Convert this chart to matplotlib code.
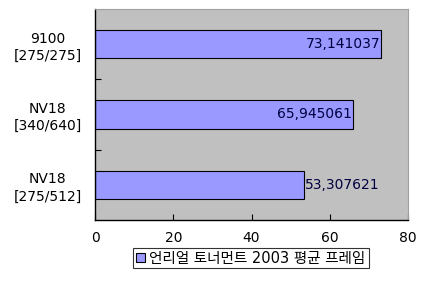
import matplotlib.pyplot as plt

plt.rcParams['font.family'] = ['DejaVu Sans', 'Noto Sans CJK KR']

categories = ['NV18\n[275/512]', 'NV18\n[340/640]', '9100\n[275/275]']
values = [53.307621, 65.945061, 73.141037]
labels = ['53,307621', '65,945061', '73,141037']
series_name = '언리얼 토너먼트 2003 평균 프레임'

fig = plt.figure(figsize=(4.28, 2.83), dpi=100)
ax = fig.add_axes([95 / 428, 63 / 283, 313 / 428, 211 / 283])
ax.set_facecolor('#C0C0C0')

pos = list(range(len(categories)))
bars = ax.barh(pos, values, height=0.4, color='#9999FF', edgecolor='black',
               linewidth=0.8, label=series_name)

ax.set_xlim(0, 80)
ax.set_ylim(-0.5, len(categories) - 0.5)
ax.set_xticks([0, 20, 40, 60, 80])
ax.set_yticks(pos)
ax.set_yticklabels(categories, fontsize=10, linespacing=1.3, ha='center')
ax.set_yticks([0.5, 1.5], minor=True)
ax.tick_params(axis='y', which='major', length=0, pad=34)
ax.tick_params(axis='y', which='minor', length=4, direction='in', width=0.8)
ax.tick_params(axis='x', length=4, direction='in', labelsize=10, pad=8, width=0.8)

for s in ['left', 'bottom']:
    ax.spines[s].set_color('black')
    ax.spines[s].set_linewidth(1)
for s in ['top', 'right']:
    ax.spines[s].set_color('#A0A0A0')
    ax.spines[s].set_linewidth(0.8)

for b, v, t in zip(bars, values, labels):
    y = b.get_y() + b.get_height() / 2
    if v > 60:
        ax.text(v - 0.2, y, t, ha='right', va='center', fontsize=10, color='#000040')
    else:
        ax.text(v + 0.4, y, t, ha='left', va='center', fontsize=10, color='#000040')

leg = fig.legend(loc='center', bbox_to_anchor=(251 / 428, 1 - 258 / 283),
                 fontsize=10.5, frameon=True, fancybox=False, handlelength=0.6,
                 handleheight=0.6, handletextpad=0.3, borderpad=0.2)
leg.get_frame().set_edgecolor('black')
leg.get_frame().set_linewidth(0.8)

fig.savefig('out.png', dpi=100, facecolor='white')
